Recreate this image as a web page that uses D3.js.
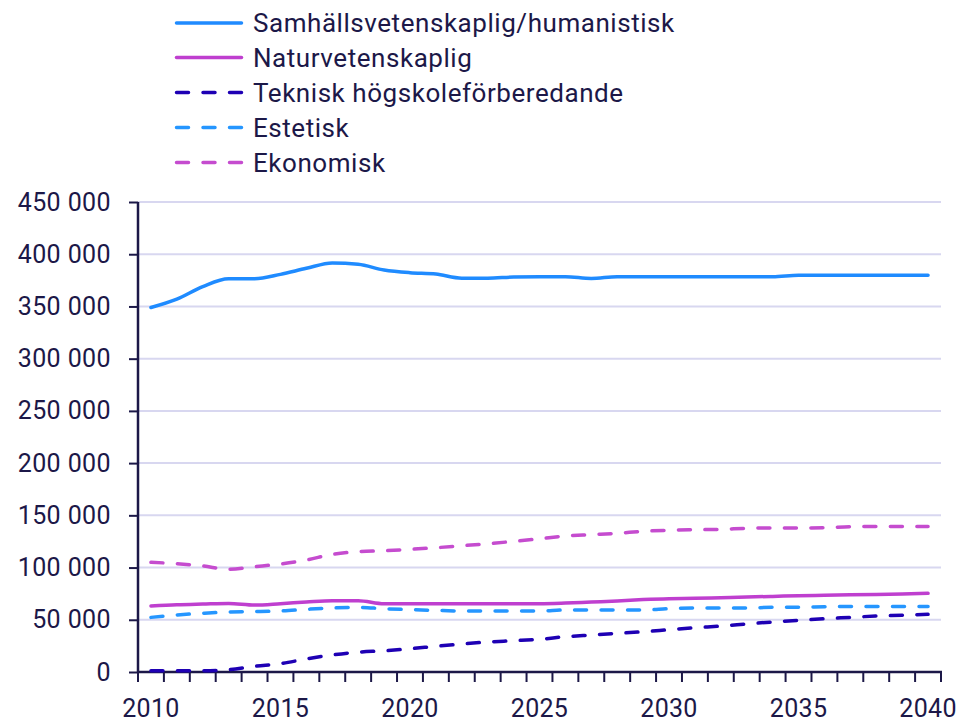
<!DOCTYPE html>
<html><head><meta charset="utf-8">
<script src="https://cdn.jsdelivr.net/npm/d3@7"></script>
<style>
html,body{margin:0;padding:0;background:#fff;}
svg{display:block;font-family:Roboto,"Noto Sans",sans-serif;}
</style></head>
<body><svg id="chart" width="965" height="722"></svg>
<script>
const years = d3.range(2010, 2041);
const tickYears = [2010, 2015, 2020, 2025, 2030, 2035, 2040];
const yTicks = [0, 50000, 100000, 150000, 200000, 250000, 300000, 350000, 400000, 450000];

const seriesNames = ["Samhällsvetenskaplig/humanistisk", "Naturvetenskaplig", "Teknisk högskoleförberedande", "Estetisk", "Ekonomisk"];
const seriesColors = ["#1f8bff", "#bf3fcf", "#1e00b4", "#2596ff", "#c54ccf"];
const seriesDashed = [false, false, true, true, true];

const samhall = [349000,357000,369000,376500,376500,380700,386500,391600,390300,384900,382300,381000,377000,377000,378200,378500,378500,376800,378500,378500,378500,378500,378500,378500,378500,379800,379800,379800,379800,379800,379800];
const natur = [63200,64400,65100,65700,64100,65400,67000,68300,68300,65400,65400,65400,65400,65400,65400,65400,66000,67000,68000,69300,70200,70500,71200,71800,72400,73100,73400,74000,74300,74600,75300];
const teknisk = [1300,1300,1300,2200,5500,8000,12500,16300,19000,20300,22300,24600,26800,28700,30000,31300,33800,35400,37000,38600,40500,42400,44000,46000,47900,49500,51000,52300,53600,54300,55200];
const estetisk = [52300,54600,56200,57400,57800,58400,60000,61300,61900,60600,59700,59000,58400,58400,58400,58400,59400,59400,59400,59400,60600,61300,61300,61300,61900,61900,62500,62800,62800,62800,62800];
const ekonomisk = [105000,103700,101500,98300,100800,103400,107200,112700,115200,116100,117500,119000,120900,122800,125100,127600,130200,131500,132800,134700,135700,136200,136600,137600,137900,137900,138200,139100,139400,139400,139400];

const seriesValues = [samhall, natur, teknisk, estetisk, ekonomisk];

const svg = d3.select("#chart");
const ink = "#1c1848";
const mLeft = 138, mRight = 941, mTop = 202, mBottom = 672;

const x = d3.scaleBand().domain(years).range([mLeft, mRight]).padding(0);
const y = d3.scaleLinear().domain([0, 450000]).range([mBottom, mTop]);
const fmt = d3.formatLocale({decimal: ",", thousands: " ", grouping: [3], currency: ["", " kr"]}).format(",d");

// gridlines
svg.append("g").selectAll("line").data(yTicks.filter(d => d > 0)).join("line")
  .attr("x1", mLeft).attr("x2", mRight)
  .attr("y1", d => y(d)).attr("y2", d => y(d))
  .attr("stroke", "#d8d7f0").attr("stroke-width", 2);

// y axis
const yAxis = d3.axisLeft(y).tickValues(yTicks).tickFormat(fmt).tickSize(9).tickPadding(18);
const gy = svg.append("g").attr("transform", `translate(${mLeft},0)`).call(yAxis);
gy.select(".domain").attr("stroke", ink).attr("stroke-width", 2.5).attr("d", `M0,${mTop}V${mBottom}`);
gy.selectAll(".tick line").attr("stroke", ink).attr("stroke-width", 2);
gy.selectAll(".tick text").attr("fill", ink).attr("font-size", 25).attr("letter-spacing", 0.4).attr("font-family", "Roboto");

// x axis: ticks at band boundaries
const boundaries = years.map(d => x(d)).concat([mRight]);
const gx = svg.append("g");
gx.selectAll("line.t").data(boundaries).join("line").attr("class", "t")
  .attr("x1", d => d).attr("x2", d => d).attr("y1", mBottom).attr("y2", mBottom + 10)
  .attr("stroke", ink).attr("stroke-width", 2);
gx.append("line").attr("x1", mLeft - 1).attr("x2", mRight + 1).attr("y1", mBottom).attr("y2", mBottom)
  .attr("stroke", ink).attr("stroke-width", 2.5);
gx.selectAll("text").data(tickYears).join("text")
  .attr("x", d => x(d) + x.bandwidth() / 2).attr("y", 717)
  .attr("text-anchor", "middle").attr("fill", ink).attr("font-size", 25).attr("letter-spacing", 0.3)
  .text(d => d);

// lines
const line = d3.line().x((d, i) => x(years[i]) + x.bandwidth() / 2).y(d => y(d)).curve(d3.curveMonotoneX);
const order = [4, 3, 2, 1, 0];
svg.append("g").selectAll("path").data(order).join("path")
  .attr("d", k => line(seriesValues[k]))
  .attr("fill", "none")
  .attr("stroke", k => seriesColors[k])
  .attr("stroke-width", 3.5)
  .attr("stroke-linecap", "round")
  .attr("stroke-linejoin", "round")
  .attr("stroke-dasharray", k => seriesDashed[k] ? "12,14.5" : null);

// legend
const lg = svg.append("g");
const rowY = [23, 57.5, 92.5, 127.5, 162.5];
seriesNames.forEach((name, k) => {
  lg.append("line").attr("x1", 176.5).attr("x2", 241.5).attr("y1", rowY[k]).attr("y2", rowY[k])
    .attr("stroke", seriesColors[k]).attr("stroke-width", 3.5).attr("stroke-linecap", "round")
    .attr("stroke-dasharray", seriesDashed[k] ? "12,14.5" : null);
  lg.append("text").attr("x", 253).attr("y", rowY[k]).attr("dy", "0.36em")
    .attr("fill", ink).attr("font-size", 26).attr("letter-spacing", 0.55).text(name);
});
</script></body></html>
